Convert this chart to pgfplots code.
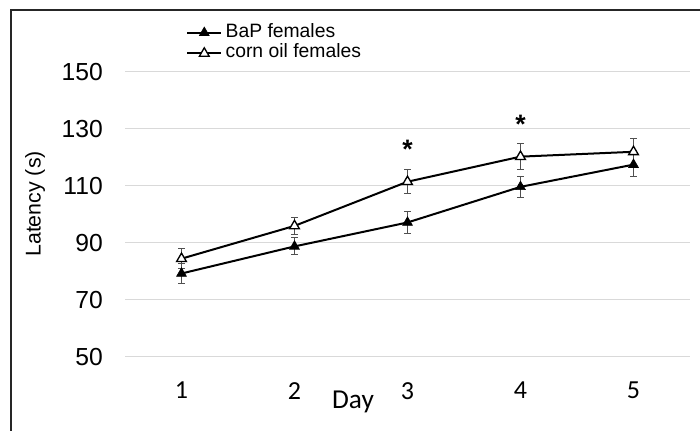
\documentclass[border=0pt]{standalone}
\usepackage{pgfplots}
\pgfplotsset{compat=1.18}
\usepackage{fontspec}
\setmainfont{Liberation Sans}
\newfontfamily\carlito{Carlito}
\definecolor{gridc}{HTML}{D9D9D9}
\definecolor{errc}{HTML}{505050}
\begin{document}
\begin{tikzpicture}
\begin{axis}[
  at={(93.75pt,55.5pt)}, anchor=south west,
  scale only axis, width=423.75pt, height=213.75pt,
  xmin=0.5, xmax=5.5, ymin=50, ymax=150,
  xtick={1,2,3,4,5}, ytick={50,70,90,110,130,150},
  axis line style={draw=none},
  major tick length=0pt,
  ymajorgrids, grid style={gridc, line width=0.75pt},
  /pgf/number format/assume math mode=true,
  yticklabel style={font=\fontsize{18.5}{21}\selectfont, inner sep=0pt, anchor=east, xshift=-16.5pt},
  xticklabel style={font=\carlito\fontsize{19.5}{22}\selectfont, inner sep=0pt, anchor=north, yshift=-18.75pt},
  ylabel={Latency (s)},
  ylabel style={font=\fontsize{16}{18}\selectfont, at={(axis description cs:-0.159,0.537)}, anchor=center, rotate=0},
  xlabel={Day},
  xlabel style={font=\carlito\fontsize{20.5}{24}\selectfont, at={(axis description cs:0.4035,-0.179)}, anchor=base},
  legend style={draw=none, fill=none, at={(axis description cs:0.108,1.175)}, anchor=north west,
    font=\fontsize{14.5}{16}\selectfont, inner sep=0pt, row sep=0pt,
    nodes={inner sep=1pt, text height=10pt, text depth=3.5pt},
    /tikz/every odd column/.append style={column sep=1.5pt}},
  legend cell align=left,
  legend image code/.code={\draw[#1, mark repeat=2, mark phase=2] plot coordinates {(0pt,0pt) (12.75pt,0pt) (25.5pt,0pt)};},
  clip=false,
]
\addplot[black, line width=1.5pt, mark=triangle*, mark size=4.2pt, mark options={fill=black, solid, line width=0.5pt},
  error bars/.cd, y dir=both, y explicit, error bar style={errc, line width=0.75pt},
  error mark options={rotate=90, errc, mark size=2.6pt, line width=0.75pt}]
  coordinates {
  (1,79.3) +- (0,3.5)
  (2,88.8) +- (0,3.0)
  (3,97.2) +- (0,3.8)
  (4,109.7) +- (0,3.8)
  (5,117.5) +- (0,4.3)
  };
\addlegendentry{BaP females}
\addplot[black, line width=1.5pt, mark=triangle*, mark size=4.2pt, mark options={fill=white, solid, line width=1pt},
  error bars/.cd, y dir=both, y explicit, error bar style={errc, line width=0.75pt},
  error mark options={rotate=90, errc, mark size=2.6pt, line width=0.75pt}]
  coordinates {
  (1,84.5) +- (0,3.5)
  (2,96.0) +- (0,3.0)
  (3,111.5) +- (0,4.3)
  (4,120.3) +- (0,4.5)
  (5,122.0) +- (0,4.8)
  };
\addlegendentry{corn oil females}
\node[font=\bfseries\fontsize{20}{22}\selectfont, inner sep=0pt, anchor=base] at (axis cs:3,119.8) {*};
\node[font=\bfseries\fontsize{20}{22}\selectfont, inner sep=0pt, anchor=base] at (axis cs:4,128.4) {*};
\end{axis}
\draw[line width=1.2pt, black!85] (8.25pt,-5pt) -- (8.25pt,315.75pt) -- (530pt,315.75pt);
\pgfresetboundingbox
\useasboundingbox (0,0) rectangle (525pt,323.25pt);
\end{tikzpicture}
\end{document}
